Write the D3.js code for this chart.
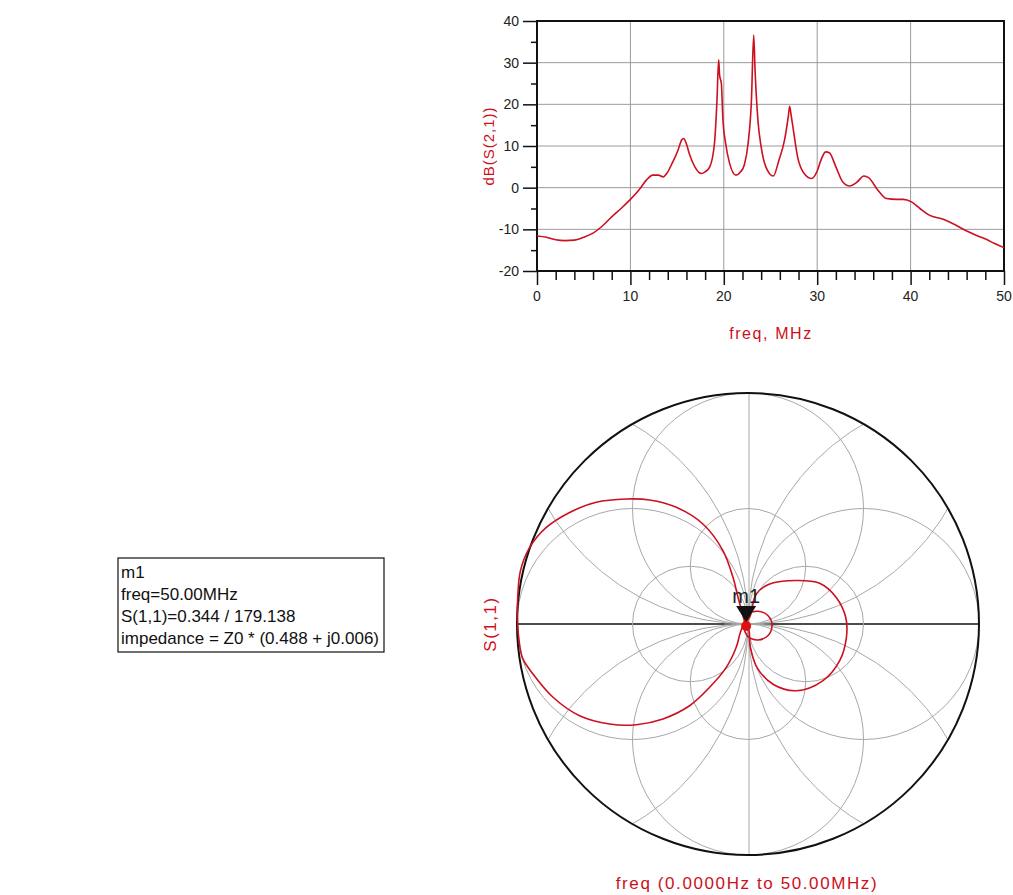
<!DOCTYPE html>
<html><head><meta charset="utf-8">
<script src="https://cdn.jsdelivr.net/npm/d3@7"></script>
<style>body{margin:0;background:#fff} svg{display:block} text{font-family:Arial,"Liberation Sans",sans-serif}</style>
</head><body>
<svg id="c" width="1013" height="895"></svg>
<script>
// ---- data: rectangular plot dB(S(2,1)) vs freq ----
const freqMHz = [0,1,2,3,4,5,6,7,8,9,10,11,11.7,12.4,13.0,13.5,14.0,14.5,15.1,15.5,15.7,16.0,16.3,16.9,17.6,18.0,18.5,19.0,19.27,19.45,19.55,19.74,19.9,20.2,20.6,21.3,21.8,22.2,22.6,22.96,23.2,23.35,23.66,24.0,24.5,25.3,25.9,26.5,26.9,27.05,27.2,27.4,27.9,28.6,29.4,30.0,30.4,30.9,31.3,32.0,32.7,33.5,34.2,35.0,35.5,36.5,37.4,38.5,39.2,40.1,41.0,42.0,43.5,44.5,46.0,47.0,48.1,49.0,50.0];
const s21dB = [-11.6,-11.9,-12.5,-12.7,-12.6,-11.9,-10.9,-9.2,-7.0,-5.0,-2.8,-0.3,1.8,3.0,3.0,2.6,3.8,6.0,9.0,11.5,11.8,10.5,8.2,5.0,3.4,3.8,5.0,10.6,21,30.7,27,25,16.6,10.6,6.0,3.0,3.8,5.5,10.6,21,36.6,28,16,9.8,5.0,2.8,6.6,11.4,17,19.5,17.5,14.6,7.4,3.4,2.2,4.0,6.6,8.6,8.4,5.0,1.5,0.4,1.2,2.8,2.4,-0.6,-2.6,-2.8,-2.8,-3.4,-5.0,-6.6,-7.6,-8.6,-10.4,-11.4,-12.4,-13.4,-14.4];
const xTicks = [0,10,20,30,40,50];
const yTicks = [-20,-10,0,10,20,30,40];

// ---- data: Smith chart S(1,1) trace (real, imag of reflection coefficient) ----
const s11Re = [-0.014,-0.043,-0.065,-0.108,-0.195,-0.310,-0.426,-0.527,-0.657,-0.772,-0.873,-0.945,-0.985,-0.997,-0.997,-0.990,-0.975,-0.931,-0.844,-0.729,-0.599,-0.483,-0.368,-0.253,-0.166,-0.094,-0.051,-0.033,-0.019,
  0.007,0.036,0.094,0.209,0.310,0.382,0.423,0.426,0.397,0.325,0.209,0.110,0.040,0.010,0.002,
  -0.017,0.000,0.043,0.087,0.104,0.087,0.043,0.000,-0.017];
const s11Im = [0.007,0.115,0.202,0.317,0.433,0.505,0.537,0.541,0.527,0.483,0.418,0.332,0.231,0.110,0.000,-0.080,-0.150,-0.216,-0.317,-0.397,-0.433,-0.436,-0.411,-0.354,-0.274,-0.188,-0.101,-0.036,-0.003,
  0.029,0.130,0.173,0.188,0.176,0.115,0.029,-0.058,-0.159,-0.245,-0.289,-0.262,-0.190,-0.100,-0.020,
  -0.003,0.043,0.055,0.036,-0.007,-0.050,-0.069,-0.055,-0.022];
const smithGridRadii = [0.25, 0.5, 1];
const markerGamma = [-0.008, -0.004];
const markerLines = ["m1","freq=50.00MHz","S(1,1)=0.344 / 179.138","impedance = Z0 * (0.488 + j0.006)"];

const RED = "#cc1020";
const svg = d3.select("#c");

// ================= rectangular plot =================
const L = 537, Rr = 1004, T = 21, B = 271;
const x = d3.scaleLinear().domain([0,50]).range([L,Rr]);
const y = d3.scaleLinear().domain([-20,40]).range([B,T]);

const g1 = svg.append("g");
g1.selectAll(".vg").data(xTicks.slice(1,-1)).join("line")
  .attr("x1",d=>x(d)).attr("x2",d=>x(d)).attr("y1",T).attr("y2",B)
  .attr("stroke","#9a9a9a").attr("stroke-width",1);
g1.selectAll(".hg").data(yTicks.slice(1,-1)).join("line")
  .attr("y1",d=>y(d)).attr("y2",d=>y(d)).attr("x1",L).attr("x2",Rr)
  .attr("stroke","#9a9a9a").attr("stroke-width",1);

const xAxis = d3.axisBottom(x).tickValues(d3.range(0,51,2)).tickSize(9).tickFormat("");
const gx = g1.append("g").attr("transform",`translate(0,${B})`).call(xAxis);
gx.select(".domain").remove();
gx.selectAll(".tick line").attr("stroke","#111").attr("stroke-width",1.5)
  .attr("y2",d=> d%10===0 ? 14 : 9);
const yAxis = d3.axisLeft(y).tickValues(d3.range(-20,41,5)).tickSize(6).tickFormat("");
const gy = g1.append("g").attr("transform",`translate(${L},0)`).call(yAxis);
gy.select(".domain").remove();
gy.selectAll(".tick line").attr("stroke","#111").attr("stroke-width",1.5)
  .attr("x2",d=> d%10===0 ? -14 : -6);

g1.selectAll(".xl").data(xTicks).join("text")
  .attr("x",d=>x(d)).attr("y",301).attr("text-anchor","middle")
  .attr("font-size",14).attr("fill","#222").text(d=>d);
g1.selectAll(".yl").data(yTicks).join("text")
  .attr("x",519).attr("y",d=>y(d)+5).attr("text-anchor","end")
  .attr("font-size",14).attr("fill","#222").text(d=>d);

g1.append("rect").attr("x",L).attr("y",T).attr("width",Rr-L).attr("height",B-T)
  .attr("fill","none").attr("stroke","#111").attr("stroke-width",2);

const pts = freqMHz.map((f,i)=>[f,s21dB[i]]);
g1.append("path").datum(pts)
  .attr("d", d3.line().x(d=>x(d[0])).y(d=>y(d[1])).curve(d3.curveMonotoneX))
  .attr("fill","none").attr("stroke",RED).attr("stroke-width",1.6);

g1.append("text").attr("transform","translate(494,146) rotate(-90)")
  .attr("text-anchor","middle").attr("font-size",15).attr("letter-spacing",1)
  .attr("fill",RED).text("dB(S(2,1))");
g1.append("text").attr("x",771).attr("y",339).attr("text-anchor","middle")
  .attr("font-size",16).attr("letter-spacing",1.6).attr("fill",RED).text("freq, MHz");

// ================= Smith chart =================
const cx = 748, cy = 624, R = 231;
const sx = d3.scaleLinear().domain([-1,1]).range([cx-R, cx+R]);
const sy = d3.scaleLinear().domain([-1,1]).range([cy+R, cy-R]);
const k = R;

svg.append("clipPath").attr("id","unit").append("circle")
  .attr("cx",sx(0)).attr("cy",sy(0)).attr("r",k);
const g2 = svg.append("g");
// real axis first, grid drawn over it (as in the original)
g2.append("line").attr("x1",sx(-1)).attr("x2",sx(1)).attr("y1",sy(0)).attr("y2",sy(0))
  .attr("stroke","#111").attr("stroke-width",1.6);
const gg = g2.append("g").attr("clip-path","url(#unit)");
const gridCircles = [];
smithGridRadii.forEach(r=>{ [[1,0],[-1,0],[0,1],[0,-1]].forEach(([a,b])=>gridCircles.push({u:a*r,v:b*r,r})); });
gg.selectAll("circle").data(gridCircles).join("circle")
  .attr("cx",d=>sx(d.u)).attr("cy",d=>sy(d.v)).attr("r",d=>d.r*k)
  .attr("fill","none").attr("stroke","#a8a8a8").attr("stroke-width",1);
gg.append("line").attr("x1",sx(0)+1).attr("x2",sx(0)+1).attr("y1",sy(1)).attr("y2",sy(-1))
  .attr("stroke","#a8a8a8").attr("stroke-width",1);
g2.append("circle").attr("cx",sx(0)).attr("cy",sy(0)).attr("r",k)
  .attr("fill","none").attr("stroke","#111").attr("stroke-width",2);

const sp = s11Re.map((re,i)=>[re,s11Im[i]]);
g2.append("path").datum(sp)
  .attr("d", d3.line().x(d=>sx(d[0])).y(d=>sy(d[1])).curve(d3.curveCatmullRom.alpha(0.5)))
  .attr("fill","none").attr("stroke",RED).attr("stroke-width",1.6);

const mx = sx(markerGamma[0]), my = sy(markerGamma[1]);
g2.append("circle").attr("cx",mx).attr("cy",my+1).attr("r",5).attr("fill","#e01010");
g2.append("path").attr("d",`M${mx-10},${my-19}L${mx+10},${my-19}L${mx},${my-3}Z`).attr("fill","#111");
g2.append("text").attr("x",mx).attr("y",my-22).attr("text-anchor","middle")
  .attr("font-size",20).attr("fill","#222").text("m1");

g2.append("text").attr("transform",`translate(496,${cy}) rotate(-90)`)
  .attr("text-anchor","middle").attr("font-size",17).attr("letter-spacing",1.5)
  .attr("fill",RED).text("S(1,1)");
g2.append("text").attr("x",747).attr("y",889).attr("text-anchor","middle")
  .attr("font-size",17).attr("letter-spacing",1.6).attr("fill",RED)
  .text("freq (0.0000Hz to 50.00MHz)");

// ================= marker readout box =================
const g3 = svg.append("g");
const lh = 22, base0 = 578, boxRight = 384;
const tx = g3.selectAll("text").data(markerLines).join("text")
  .attr("y",(d,i)=>base0+i*lh).attr("font-size",17).attr("fill","#111").text(d=>d);
let maxW = 0; tx.each(function(){ maxW = Math.max(maxW,this.getComputedTextLength()); });
const txX = boxRight - 5 - maxW;
tx.attr("x",txX);
g3.append("rect").attr("x",txX-3).attr("y",558).attr("width",boxRight-txX+3).attr("height",base0+3*lh+8-558)
  .attr("fill","none").attr("stroke","#111").attr("stroke-width",1.2);
</script>
</body></html>
